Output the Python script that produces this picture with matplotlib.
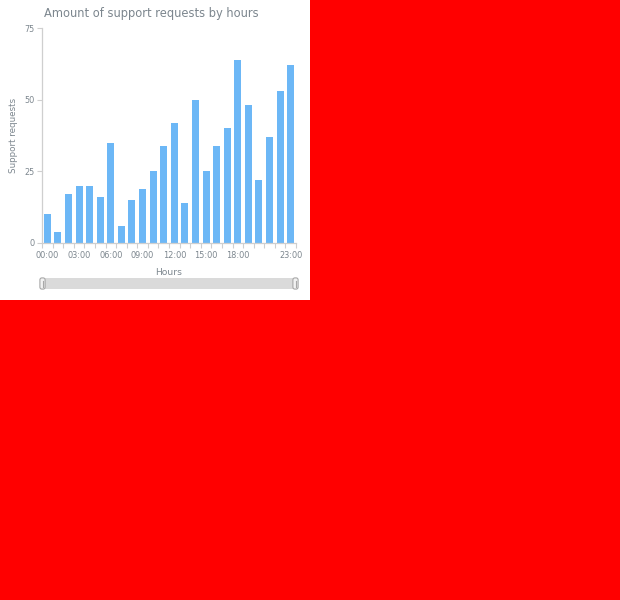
import matplotlib
matplotlib.use('Agg')
import matplotlib.pyplot as plt
import numpy as np
from matplotlib.patches import Rectangle, FancyBboxPatch

# ---- data ----
hours = ["00:00", "01:00", "02:00", "03:00", "04:00", "05:00", "06:00", "07:00",
         "08:00", "09:00", "10:00", "11:00", "12:00", "13:00", "14:00", "15:00",
         "16:00", "17:00", "18:00", "19:00", "20:00", "21:00", "22:00", "23:00"]
requests = [10, 4, 17, 20, 20, 16, 35, 6, 15, 19, 25, 34,
            42, 14, 50, 25, 34, 40, 64, 48, 22, 37, 53, 62]
shown_labels = ["00:00", "03:00", "06:00", "09:00", "12:00", "15:00", "18:00", "23:00"]
y_ticks = [0, 25, 50, 75]

title = "Amount of support requests by hours"
x_title = "Hours"
y_title = "Support requests"

W, H = 620, 600
def fx(px): return px / W
def fy(py): return 1 - py / H

TXT = '#7c868e'
AXC = '#cfcfcf'
BAR = '#6cb7f6'

fig = plt.figure(figsize=(6.2, 6.0), dpi=100)
fig.patch.set_facecolor('#ff0000')
fig.add_artist(Rectangle((0, 0.5), 0.5, 0.5, transform=fig.transFigure,
                         facecolor='white', edgecolor='none', zorder=0))

ax = fig.add_axes([fx(42), fy(243), (296 - 42) / W, (243 - 28) / H])
ax.set_facecolor('none')
x = np.arange(len(hours))
ax.bar(x, requests, width=0.66, color=BAR, edgecolor='none', zorder=2)
ax.set_xlim(-0.5, len(hours) - 0.5)
ax.set_ylim(0, 75)

ax.set_yticks(y_ticks)
ax.set_yticklabels([str(v) for v in y_ticks])
pos = [hours.index(l) for l in shown_labels]
ax.set_xticks(pos)
ax.set_xticklabels(shown_labels)
ax.set_xticks(np.arange(-0.5, len(hours)), minor=True)
ax.tick_params(axis='x', which='major', length=0, pad=5.5, labelsize=5.9, labelcolor=TXT)
ax.tick_params(axis='x', which='minor', length=3.5, width=0.8, color=AXC, direction='out')
ax.tick_params(axis='y', which='major', length=3.5, width=0.8, color=AXC, pad=2,
               labelsize=5.9, labelcolor=TXT)

for s in ['top', 'right']:
    ax.spines[s].set_visible(False)
for s in ['left', 'bottom']:
    ax.spines[s].set_color(AXC)
    ax.spines[s].set_linewidth(0.9)

ax.set_ylabel(y_title, fontsize=6.3, color=TXT)
ax.yaxis.set_label_coords(-0.096, 0.5)
ax.set_xlabel(x_title, fontsize=6.6, color=TXT)
ax.xaxis.set_label_coords(0.497, -0.117)

fig.text(fx(44), fy(13.5), title, fontsize=8.3, color=TXT, ha='left', va='center')

# scroller
sax = fig.add_axes([0, 0, 1, 1])
sax.set_xlim(0, W)
sax.set_ylim(H, 0)
sax.axis('off')
sax.add_patch(Rectangle((40, 278), 258, 11, facecolor='#dadada', edgecolor='none'))
for hx in (42.5, 295.5):
    sax.add_patch(FancyBboxPatch((hx - 2.2, 278.3), 4.4, 10.4,
                                 boxstyle='round,pad=0.4,rounding_size=2',
                                 facecolor='#f2f2f2', edgecolor='#a8a8a8', linewidth=0.8))
    sax.plot([hx, hx], [280.5, 286.5], color='#a8a8a8', lw=0.8)

fig.savefig('out.png', dpi=100, facecolor=fig.get_facecolor())
